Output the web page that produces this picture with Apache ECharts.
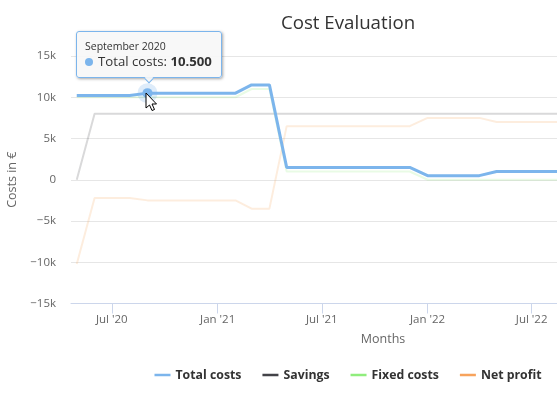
<!DOCTYPE html>
<html>
<head>
<meta charset="utf-8">
<style>html,body{margin:0;padding:0;background:#fff;overflow:hidden;width:557px;height:394px}#c{width:696px;height:394px}</style>
<script src="https://cdn.jsdelivr.net/npm/echarts@6/dist/echarts.min.js"></script>
</head>
<body>
<div id="c"></div>
<script>
const pointDates = ['2020-05-01','2020-06-01','2020-07-01','2020-08-01','2020-09-01','2020-10-01','2020-11-01','2020-12-01','2021-01-01','2021-02-01','2021-03-01','2021-04-01','2021-05-01','2021-06-01','2021-07-01','2021-08-01','2021-09-01','2021-10-01','2021-11-01','2021-12-01','2022-01-01','2022-02-01','2022-03-01','2022-04-01','2022-05-01','2022-06-01','2022-07-01','2022-08-01','2022-09-01'];
const totalCosts = [10200,10200,10200,10200,10500,10500,10500,10500,10500,10500,11500,11500,1500,1500,1500,1500,1500,1500,1500,1500,500,500,500,500,1000,1000,1000,1000,1000];
const savings = [0,8000,8000,8000,8000,8000,8000,8000,8000,8000,8000,8000,8000,8000,8000,8000,8000,8000,8000,8000,8000,8000,8000,8000,8000,8000,8000,8000,8000];
const fixedCosts = [10000,10000,10000,10000,10000,10000,10000,10000,10000,10000,11000,11000,1000,1000,1000,1000,1000,1000,1000,1000,0,0,0,0,0,0,0,0,0];
const netProfit = [-10200,-2200,-2200,-2200,-2500,-2500,-2500,-2500,-2500,-2500,-3500,-3500,6500,6500,6500,6500,6500,6500,6500,6500,7500,7500,7500,7500,7000,7000,7000,7000,7000];
const tickDates = ['2020-07-01','2021-01-01','2021-07-01','2022-01-01','2022-07-01','2023-01-01'];
const yTicks = [-15000,-10000,-5000,0,5000,10000,15000];
const seriesNames = ['Total costs','Savings','Fixed costs','Net profit'];
const seriesColors = ['#7cb5ec','#434348','#90ed7d','#f7a35c'];
const hoverIndex = 4;
const FONT = '"Open Sans", sans-serif';
const ts = d => new Date(d + 'T00:00:00Z').getTime();
const pairs = arr => arr.map((v, i) => [ts(pointDates[i]), v]);
const monthNames = ['Jan','Feb','Mar','Apr','May','Jun','Jul','Aug','Sep','Oct','Nov','Dec'];

const lineSeries = [totalCosts, savings, fixedCosts, netProfit].map((arr, i) => ({
  name: seriesNames[i],
  type: 'line',
  data: pairs(arr),
  showSymbol: false,
  symbol: 'none',
  animation: false,
  silent: true,
  clip: true,
  z: i === 0 ? 5 : 2,
  itemStyle: { color: seriesColors[i] },
  lineStyle: i === 0 ? { color: seriesColors[i], width: 3 } : { color: seriesColors[i], width: 2, opacity: 0.2 }
}));

const chart = echarts.init(document.getElementById('c'), null, { renderer: 'canvas' });
chart.setOption({
  animation: false,
  backgroundColor: '#fff',
  textStyle: { fontFamily: FONT },
  title: {
    text: 'Cost Evaluation', left: 'center', top: 9,
    textStyle: { fontFamily: FONT, fontSize: 18.7, fontWeight: 'normal', color: '#333' }
  },
  grid: { left: 71, top: 56, width: 624, height: 247.5, containLabel: false, outerBoundsMode: 'none' },
  legend: {
    data: seriesNames, left: 'center', top: 364, icon: 'rect', itemWidth: 16, itemHeight: 2.5, itemGap: 21,
    itemStyle: { opacity: 1 }, lineStyle: { opacity: 1 },
    textStyle: { fontFamily: FONT, fontSize: 12.3, fontWeight: 'bold', color: '#333' }
  },
  tooltip: {
    trigger: 'item', position: 'top', alwaysShowContent: true, transitionDuration: 0,
    backgroundColor: 'rgba(247,247,247,0.9)', borderColor: '#7cb5ec', borderWidth: 1.5, padding: [7, 9, 7, 8], extraCssText: 'border-radius:3px;box-shadow:1px 1px 3px rgba(0,0,0,.35);margin-left:2px;margin-top:1px;',
    textStyle: { fontFamily: FONT, color: '#333' },
    formatter: () => '<div style="font-size:10.5px;line-height:14px">September 2020</div><div style="font-size:13.2px;line-height:17px;white-space:nowrap"><span style="display:inline-block;width:8px;height:8px;border-radius:50%;background:#7cb5ec;margin-right:5px"></span>Total costs: <b>10.500</b></div>'
  },
  xAxis: {
    type: 'value', min: ts('2020-04-21'), max: ts('2023-04-11'),
    splitLine: { show: false },
    axisLine: { onZero: false, lineStyle: { color: '#ccd6eb', width: 1 } },
    axisTick: { show: true, length: 10, lineStyle: { color: '#ccd6eb' }, customValues: tickDates.map(ts) },
    axisLabel: {
      color: '#666', fontFamily: FONT, fontSize: 11.5, margin: 10, hideOverlap: false,
      customValues: tickDates.map(ts),
      formatter: v => { const d = new Date(v); return monthNames[d.getUTCMonth()] + " '" + String(d.getUTCFullYear()).slice(2); }
    },
    name: 'Months', nameLocation: 'middle', nameGap: 29,
    nameTextStyle: { color: '#666', fontFamily: FONT, fontSize: 12.5 }
  },
  yAxis: {
    type: 'value', min: yTicks[0], max: yTicks[yTicks.length - 1], interval: 5000,
    axisLine: { show: false }, axisTick: { show: false },
    splitLine: { lineStyle: { color: '#e6e6e6', width: 1 } },
    axisLabel: { color: '#666', fontFamily: FONT, fontSize: 11.5, margin: 15, formatter: v => v === 0 ? '0' : (v < 0 ? '\u2212' : '') + Math.abs(v / 1000) + 'k' },
    name: 'Costs in \u20AC', nameLocation: 'middle', nameGap: 50, nameRotate: 90,
    nameTextStyle: { color: '#666', fontFamily: FONT, fontSize: 12.5 }
  },
  series: lineSeries.concat([{
    name: 'hover', type: 'scatter', symbolSize: 20, animation: false, z: 6, silent: true,
    data: [pairs(totalCosts)[hoverIndex]], itemStyle: { color: '#7cb5ec', opacity: 0.25 }, tooltip: { show: false }
  }, {
    name: 'hoverPoint', type: 'scatter', symbolSize: 10, animation: false, z: 7,
    data: [pairs(totalCosts)[hoverIndex]], itemStyle: { color: '#7cb5ec', opacity: 1 }
  }]),
  graphic: [{
    type: 'polygon', z: 100, silent: true,
    shape: { points: [[146,93],[146,108],[149.5,105],[152,110.5],[154.5,109.5],[152,104],[156.5,104]] },
    style: { fill: '#fff', stroke: '#000', lineWidth: 1 }
  }]
});
chart.dispatchAction({ type: 'showTip', seriesIndex: 5, dataIndex: 0 });
</script>
</body>
</html>
